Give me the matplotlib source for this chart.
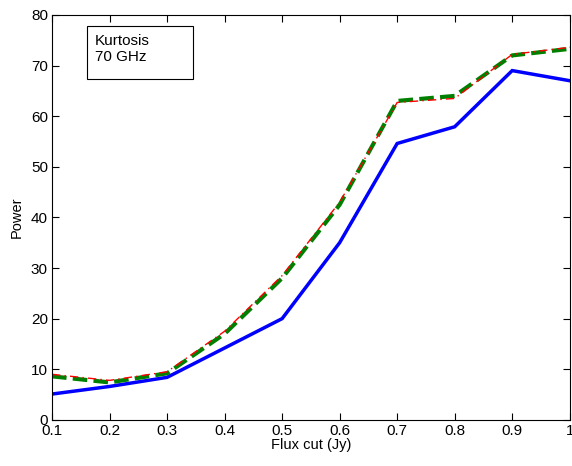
import numpy as np
import matplotlib.pyplot as plt
from matplotlib.patches import Rectangle

flux = [0.1, 0.2, 0.3, 0.4, 0.5, 0.6, 0.7, 0.8, 0.9, 1.0]
blue = [5.1, 6.6, 8.4, 14.2, 20.0, 35.0, 54.6, 57.9, 69.0, 67.0]
green = [8.6, 7.4, 9.2, 17.0, 28.0, 42.5, 63.0, 64.0, 72.0, 73.3]
red = [9.0, 7.8, 9.5, 17.5, 28.5, 43.0, 62.7, 63.5, 72.2, 73.6]

plt.rcParams['font.family'] = ['Liberation Sans', 'DejaVu Sans']
fig = plt.figure(figsize=(5.72, 4.66), dpi=100)
ax = fig.add_axes([0.091, 0.099, 0.905, 0.869])

ax.plot(flux, blue, color='#0000ff', lw=2.5, solid_joinstyle='miter')
ax.plot(flux, green, color='#008000', lw=3, ls=(0, (3.5, 1.5)))
ax.plot(flux, red, color='#ff0000', lw=1, ls=(0, (6, 3, 1, 3)))

ax.set_xlim(0.1, 1)
ax.set_ylim(0, 80)
ax.set_xticks([0.1, 0.2, 0.3, 0.4, 0.5, 0.6, 0.7, 0.8, 0.9, 1.0])
ax.set_xticklabels(['0.1', '0.2', '0.3', '0.4', '0.5', '0.6', '0.7', '0.8', '0.9', '1'])
ax.set_yticks(np.arange(0, 81, 10))
ax.tick_params(direction='in', top=True, right=True, labelsize=11, length=5, pad=3)
ax.set_xlabel('Flux cut (Jy)', fontsize=10.5, labelpad=0)
ax.set_ylabel('Power', fontsize=10.5, labelpad=5)

ax.add_patch(Rectangle((0.068, 0.842), 0.204, 0.131, transform=ax.transAxes,
                       fc='white', ec='black', lw=0.8, zorder=5))
ax.text(0.083, 0.952, 'Kurtosis\n70 GHz', transform=ax.transAxes, fontsize=11,
        va='top', ha='left', linespacing=1.15, zorder=6)

plt.savefig('out.png', dpi=100)
